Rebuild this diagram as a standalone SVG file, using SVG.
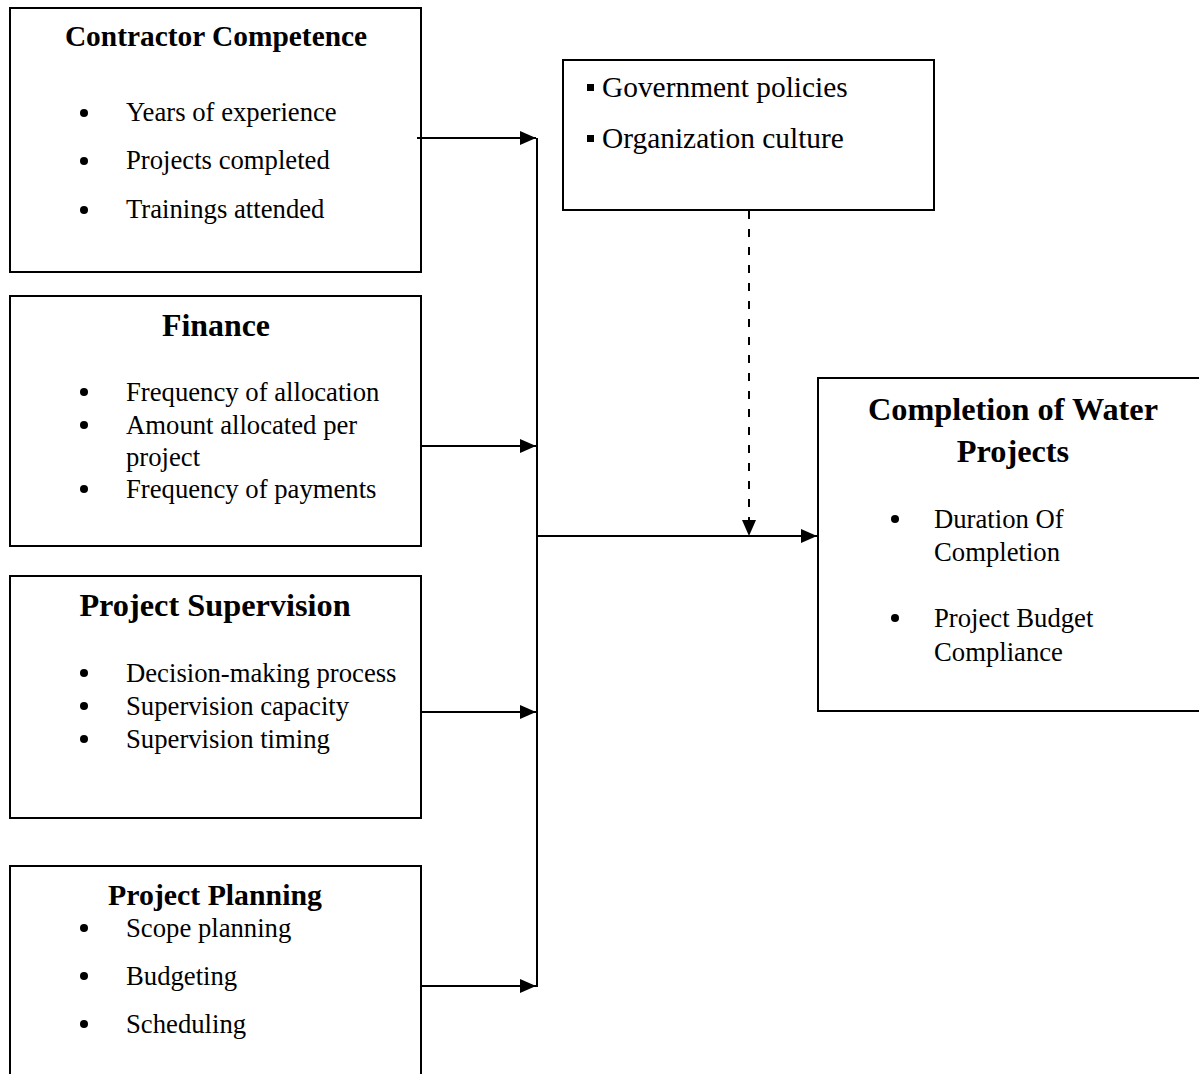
<svg xmlns="http://www.w3.org/2000/svg" width="1199" height="1074" viewBox="0 0 1199 1074">
<defs>
<marker id="ahb" viewBox="0 0 16 14" markerWidth="16" markerHeight="14" refX="16" refY="7" orient="auto" markerUnits="userSpaceOnUse"><path d="M0,0 L16,7 L0,14 Z" fill="#000"/></marker>
</defs>
<style>
.box{fill:#fff;stroke:#000;stroke-width:2}
.t{font-family:"Liberation Serif","Times New Roman",serif;font-size:26.7px;fill:#000}
.p{font-family:"Liberation Serif","Times New Roman",serif;font-size:29.4px;fill:#000}
.h{font-family:"Liberation Serif","Times New Roman",serif;font-weight:bold;fill:#000}
.c{stroke:#000;stroke-width:2;fill:none}
</style>
<rect width="1199" height="1074" fill="#fff"/>
<g id="contractor">
<rect class="box" x="10" y="8" width="411" height="264"/>
<text class="h" x="216" y="46" font-size="29.4" text-anchor="middle">Contractor Competence</text>
<circle cx="84" cy="113" r="4"/><text class="t" x="126" y="121">Years of experience</text>
<circle cx="84" cy="161" r="4"/><text class="t" x="126" y="169">Projects completed</text>
<circle cx="84" cy="210" r="4"/><text class="t" x="126" y="218">Trainings attended</text>
</g>
<g id="finance">
<rect class="box" x="10" y="296" width="411" height="250"/>
<text class="h" x="216" y="336" font-size="31.9" text-anchor="middle">Finance</text>
<circle cx="84" cy="392" r="4"/><text class="t" x="126" y="401">Frequency of allocation</text>
<circle cx="84" cy="425" r="4"/><text class="t" x="126" y="434">Amount allocated per</text>
<text class="t" x="126" y="466">project</text>
<circle cx="84" cy="489" r="4"/><text class="t" x="126" y="498">Frequency of payments</text>
</g>
<g id="supervision">
<rect class="box" x="10" y="576" width="411" height="242"/>
<text class="h" x="215" y="616" font-size="32.3" text-anchor="middle">Project Supervision</text>
<circle cx="84" cy="673" r="4"/><text class="t" x="126" y="682">Decision-making process</text>
<circle cx="84" cy="706" r="4"/><text class="t" x="126" y="715">Supervision capacity</text>
<circle cx="84" cy="739" r="4"/><text class="t" x="126" y="748">Supervision timing</text>
</g>
<g id="planning">
<rect class="box" x="10" y="866" width="411" height="220"/>
<text class="h" x="215" y="905" font-size="29.8" text-anchor="middle">Project Planning</text>
<circle cx="84" cy="928" r="4"/><text class="t" x="126" y="937">Scope planning</text>
<circle cx="84" cy="976" r="4"/><text class="t" x="126" y="985">Budgeting</text>
<circle cx="84" cy="1024" r="4"/><text class="t" x="126" y="1033">Scheduling</text>
</g>
<g id="intervening">
<rect class="box" x="563" y="60" width="371" height="150"/>
<rect x="587" y="84" width="7" height="7"/><text class="p" x="602" y="97">Government policies</text>
<rect x="587" y="135" width="7" height="7"/><text class="p" x="602" y="148">Organization culture</text>
</g>
<g id="outcome">
<rect class="box" x="818" y="378" width="395" height="333"/>
<text class="h" x="1013" y="420" font-size="32.3" text-anchor="middle">Completion of Water</text>
<text class="h" x="1013" y="462" font-size="32.3" text-anchor="middle">Projects</text>
<circle cx="895" cy="519" r="4"/><text class="t" x="934" y="528">Duration Of</text>
<text class="t" x="934" y="561">Completion</text>
<circle cx="895" cy="618" r="4"/><text class="t" x="934" y="627">Project Budget</text>
<text class="t" x="934" y="661">Compliance</text>
</g>
<g id="connectors">
<line class="c" x1="537" y1="138" x2="537" y2="987"/>
<line class="c" x1="417" y1="138" x2="536" y2="138" marker-end="url(#ahb)"/>
<line class="c" x1="421" y1="446" x2="536" y2="446" marker-end="url(#ahb)"/>
<line class="c" x1="421" y1="712" x2="536" y2="712" marker-end="url(#ahb)"/>
<line class="c" x1="421" y1="986" x2="536" y2="986" marker-end="url(#ahb)"/>
<line class="c" x1="537" y1="536" x2="817" y2="536" marker-end="url(#ahb)"/>
<line class="c" x1="749" y1="211" x2="749" y2="536" stroke-dasharray="8,10" marker-end="url(#ahb)"/>
</g>
</svg>
